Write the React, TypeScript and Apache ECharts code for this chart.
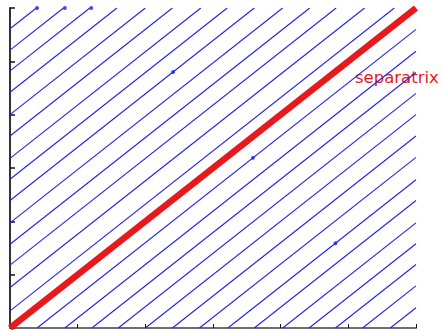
import React, { useEffect, useRef } from "react";
import * as echarts from "echarts";

// Axis range / ticks (no tick labels shown in the reference)
const axisMin = -3;
const axisMax = 3;
const tickStep = 1;

// Trajectories are straight lines y = x + c; offsets c
const offsetsAbove = [0.32, 0.76, 1.18, 1.57, 1.97, 2.39, 2.79, 3.18, 3.6, 4.0, 4.42, 4.82, 5.21, 5.61];
const offsetsBelow = [-0.4, -0.81, -1.21, -1.6, -2.0, -2.4, -2.8, -3.22, -3.61, -4.03, -4.42, -4.81, -5.21, -5.62];

// Separatrix: y = x
const separatrix: [number, number][] = [[-3, -3], [3, 3]];

// Small marker dots seen on some trajectories
const dotPoints: [number, number][] = [
  [-2.6, 3.0],
  [-2.19, 3.0],
  [-1.8, 3.0],
  [-0.59, 1.8],
  [0.59, 0.19],
  [1.81, -1.41],
];

function segment(c: number): [number, number][] {
  if (c >= 0) return [[axisMin, axisMin + c], [axisMax - c, axisMax]];
  return [[axisMin - c, axisMin], [axisMax, axisMax + c]];
}

export default function App() {
  const ref = useRef<HTMLDivElement>(null);
  useEffect(() => {
    if (!ref.current) return;
    const chart = echarts.init(ref.current, undefined, { renderer: "svg" });
    const trajSeries = [...offsetsAbove, ...offsetsBelow].map((c) => ({
      type: "line",
      data: segment(c),
      showSymbol: false,
      symbol: "none",
      lineStyle: { color: "#2222e6", width: 1.1 },
      silent: true,
    }));
    chart.setOption({
      animation: false,
      grid: { left: 10, right: 27, top: 8, bottom: 2, containLabel: false },
      xAxis: {
        type: "value",
        min: axisMin,
        max: axisMax,
        interval: tickStep,
        axisLine: { show: true, onZero: false, lineStyle: { color: "#6e6e6e", width: 2 } },
        axisTick: { show: true, inside: true, length: 4, lineStyle: { color: "#111", width: 1 } },
        axisLabel: { show: false },
        splitLine: { show: false },
      },
      yAxis: {
        type: "value",
        min: axisMin,
        max: axisMax,
        interval: tickStep,
        axisLine: { show: true, onZero: false, lineStyle: { color: "#333", width: 2 } },
        axisTick: { show: true, inside: true, length: 5, lineStyle: { color: "#111", width: 1.5 } },
        axisLabel: { show: false },
        splitLine: { show: false },
      },
      series: [
        ...trajSeries,
        {
          type: "scatter",
          data: dotPoints,
          symbolSize: 4,
          itemStyle: { color: "#2222e6" },
          silent: true,
        },
        {
          type: "line",
          data: separatrix,
          showSymbol: false,
          symbol: "none",
          lineStyle: { color: "#e8191c", width: 6.5 },
          silent: true,
          z: 5,
        },
      ],
      graphic: [
        {
          type: "text",
          x: 355,
          y: 77,
          style: {
            text: "separatrix",
            fill: "#e8191c",
            font: "16.5px 'DejaVu Sans', sans-serif",
            verticalAlign: "middle",
          },
        },
      ],
    });
    return () => chart.dispose();
  }, []);
  return (
    <div
      ref={ref}
      style={{ position: "fixed", left: 0, top: 0, width: 443, height: 330, background: "#fff" }}
    />
  );
}
